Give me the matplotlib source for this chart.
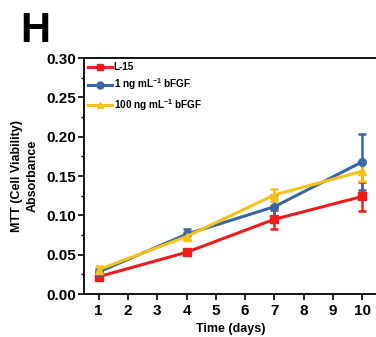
import matplotlib
matplotlib.use("Agg")
import matplotlib.pyplot as plt
from matplotlib.ticker import MultipleLocator
from matplotlib.lines import Line2D

plt.rcParams['font.family'] = ['Liberation Sans', 'DejaVu Sans']
plt.rcParams['font.weight'] = 'bold'
plt.rcParams['mathtext.fontset'] = 'custom'
plt.rcParams['mathtext.rm'] = 'Liberation Sans:bold'
plt.rcParams['mathtext.bf'] = 'Liberation Sans:bold'
plt.rcParams['mathtext.default'] = 'bf'

days = [1, 4, 7, 10]
l15 = [0.022, 0.053, 0.095, 0.124]
l15_err = [0.003, 0.003, 0.012, 0.019]
ng1 = [0.028, 0.076, 0.111, 0.168]
ng1_err = [0.004, 0.007, 0.015, 0.036]
ng100 = [0.031, 0.073, 0.126, 0.156]
ng100_err = [0.004, 0.004, 0.008, 0.012]

labels = ['L-15', r'1 ng mL$^{-1}$ bFGF', r'100 ng mL$^{-1}$ bFGF']
colors = ['#ee1c1c', '#3a66a4', '#f5c21a']
markers = ['s', 'o', '^']

fig = plt.figure(figsize=(3.76, 3.37), dpi=100)
ax = fig.add_axes([84/376, (337-294)/337, (377-84)/376, (294-58)/337])

handles = []
for y, e, lab, c, m in zip([l15, ng1, ng100], [l15_err, ng1_err, ng100_err], labels, colors, markers):
    ax.errorbar(days, y, yerr=e, color=c, marker=m, markersize=5.5,
                linewidth=2.2, elinewidth=1.8, capsize=3, capthick=1.8)
    handles.append(Line2D([], [], color=c, marker=m, markersize=5, linewidth=2.2, label=lab))

ax.set_xlim(0.5, 10.5)
ax.set_ylim(0, 0.30)
ax.xaxis.set_major_locator(MultipleLocator(1))
ax.yaxis.set_major_locator(MultipleLocator(0.05))
ax.yaxis.set_minor_locator(MultipleLocator(0.025))
ax.tick_params(axis='both', which='major', direction='out', length=4, width=1.2, labelsize=11)
ax.tick_params(axis='y', which='major', pad=2)
ax.tick_params(axis='y', which='minor', direction='out', length=2, width=1)
for s in ax.spines.values():
    s.set_linewidth(1.3)
ax.set_yticks([0, 0.05, 0.10, 0.15, 0.20, 0.25, 0.30])
ax.set_yticklabels(['0.00', '0.05', '0.10', '0.15', '0.20', '0.25', '0.30'], fontweight='bold')
for t in ax.get_xticklabels() + ax.get_yticklabels():
    t.set_fontweight('bold')
ax.set_xlabel('Time (days)', fontsize=9, fontweight='bold', labelpad=3)
ax.set_ylabel('MTT (Cell Viability)\nAbsorbance', fontsize=9, fontweight='bold', labelpad=5,
              linespacing=1.45)
ax.legend(handles=handles, loc='upper left', frameon=False, fontsize=7.2, handlelength=2.4,
          borderaxespad=0.1, labelspacing=0.45, handletextpad=0.15, borderpad=0.3)
fig.text(20/376, 1 - 42/337, 'H', fontsize=30, fontweight='bold')
fig.savefig('out.png', dpi=100)
